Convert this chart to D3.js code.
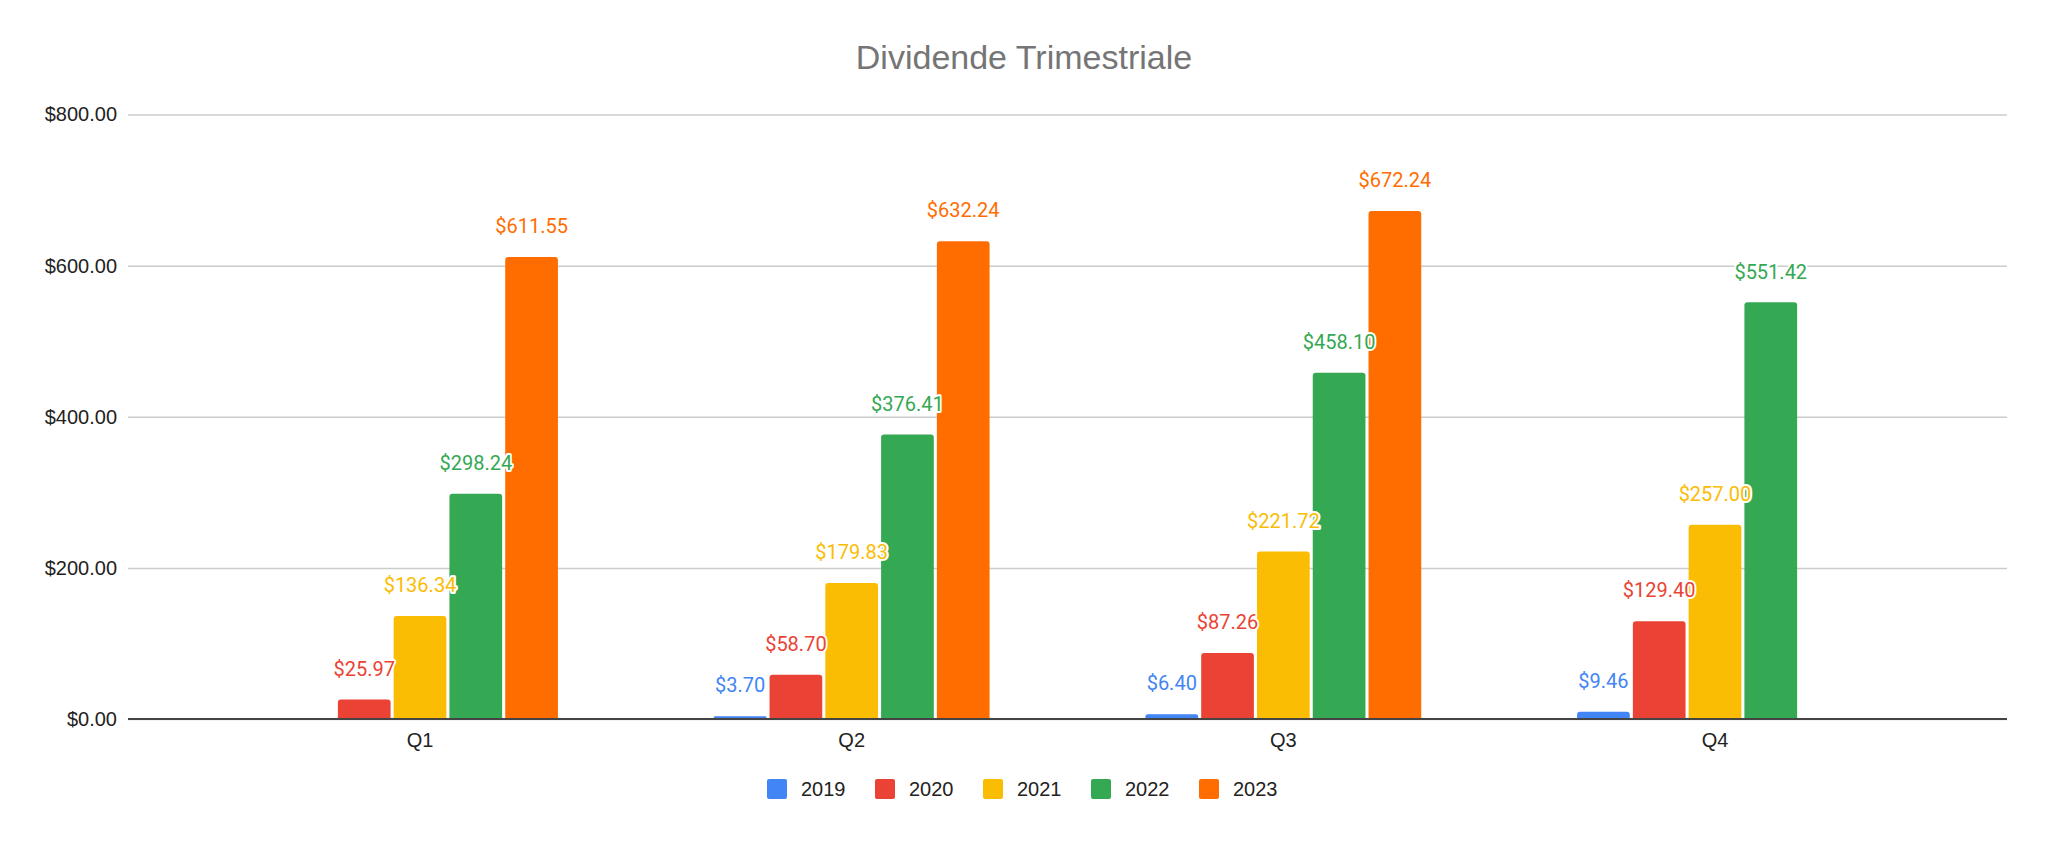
<!DOCTYPE html>
<html>
<head>
<meta charset="utf-8">
<script src="https://cdn.jsdelivr.net/npm/d3@7"></script>
<style>
  body { margin: 0; background: #fff; }
  .axis text { font-family: "Liberation Sans", Arial, sans-serif; font-size: 20px; fill: #222; }
  .yaxis .tick line { stroke: #ccc; stroke-width: 1.5; }
  .axis .domain { display: none; }
  .label { font-family: Roboto, sans-serif; font-size: 20px; paint-order: stroke; stroke: #fff; stroke-width: 4px; stroke-linejoin: round; }
</style>
</head>
<body>
<script>
(function(){

    //chart data
    var quarters = ["Q1", "Q2", "Q3", "Q4"];
    var years = ["2019", "2020", "2021", "2022", "2023"];
    var v2019 = [null, 3.70, 6.40, 9.46];
    var v2020 = [25.97, 58.70, 87.26, 129.40];
    var v2021 = [136.34, 179.83, 221.72, 257.00];
    var v2022 = [298.24, 376.41, 458.10, 551.42];
    var v2023 = [611.55, 632.24, 672.24, null];
    var yTicks = [0, 200, 400, 600, 800];
    var colors = ["#4285f4", "#ea4335", "#fbbc04", "#34a853", "#ff6d01"];

    var seriesValues = [v2019, v2020, v2021, v2022, v2023];

    //frame
    var width = 2048,
        height = 841,
        left = 128,
        right = 2007,
        top = 114.5,
        bottom = 719;

    var svg = d3.select("body")
        .append("svg")
        .attr("width", width)
        .attr("height", height);

    //scales
    var x0 = d3.scaleBand()
        .domain(quarters)
        .range([left, right])
        .paddingInner(0.361)
        .paddingOuter(0.357);

    var x1 = d3.scaleBand()
        .domain(years)
        .range([0, x0.bandwidth()])
        .paddingInner(0.055);

    var y = d3.scaleLinear()
        .domain([0, 800])
        .range([bottom, top]);

    var money = function(d){ return "$" + d3.format(",.2f")(d); };

    //title
    svg.append("text")
        .attr("x", 1024)
        .attr("y", 69)
        .attr("text-anchor", "middle")
        .style("font-family", "'Liberation Sans', Arial, sans-serif")
        .style("font-size", "34px")
        .style("fill", "#757575")
        .text("Dividende Trimestriale");

    //y axis with gridlines
    var yAxis = d3.axisLeft(y)
        .tickValues(yTicks)
        .tickSize(-(right - left))
        .tickPadding(11)
        .tickFormat(money);

    svg.append("g")
        .attr("class", "axis yaxis")
        .attr("transform", "translate(" + left + ",0)")
        .call(yAxis);

    //flatten data into bars
    var bars = [];
    quarters.forEach(function(q, qi){
        years.forEach(function(yr, si){
            var v = seriesValues[si][qi];
            if (v != null) bars.push({q: q, year: yr, value: v, color: colors[si]});
        });
    });

    //rounded top corners path
    function barPath(d){
        var bx = x0(d.q) + x1(d.year),
            bw = x1.bandwidth(),
            by = y(d.value),
            bh = y(0) - by,
            r = Math.min(3, bh / 2, bw / 2);
        return "M" + bx + "," + (by + bh) +
            "V" + (by + r) +
            "Q" + bx + "," + by + " " + (bx + r) + "," + by +
            "H" + (bx + bw - r) +
            "Q" + (bx + bw) + "," + by + " " + (bx + bw) + "," + (by + r) +
            "V" + (by + bh) + "Z";
    }

    svg.selectAll(".bar")
        .data(bars)
        .enter()
        .append("path")
        .attr("class", "bar")
        .attr("d", barPath)
        .style("fill", function(d){ return d.color; });

    //zero baseline
    svg.append("line")
        .attr("x1", left)
        .attr("x2", right)
        .attr("y1", y(0))
        .attr("y2", y(0))
        .style("stroke", "#444")
        .style("stroke-width", 2);

    //x axis
    var xAxis = d3.axisBottom(x0)
        .tickSize(0)
        .tickPadding(14);

    svg.append("g")
        .attr("class", "axis xaxis")
        .attr("transform", "translate(0," + y(0) + ")")
        .call(xAxis);

    //data labels
    svg.selectAll(".label")
        .data(bars)
        .enter()
        .append("text")
        .attr("class", "label")
        .attr("x", function(d){ return x0(d.q) + x1(d.year) + x1.bandwidth() / 2; })
        .attr("y", function(d){ return y(d.value) - 31; })
        .attr("dy", "0.36em")
        .attr("text-anchor", "middle")
        .style("fill", function(d){ return d.color; })
        .text(function(d){ return money(d.value); });

    //legend
    var legend = svg.append("g")
        .attr("transform", "translate(767,779)");

    var item = legend.selectAll(".legendItem")
        .data(years)
        .enter()
        .append("g")
        .attr("class", "legendItem")
        .attr("transform", function(d, i){ return "translate(" + (i * 108) + ",0)"; });

    item.append("rect")
        .attr("width", 20)
        .attr("height", 20)
        .attr("rx", 2)
        .style("fill", function(d, i){ return colors[i]; });

    item.append("text")
        .attr("x", 34)
        .attr("y", 17)
        .style("font-family", "'Liberation Sans', Arial, sans-serif")
        .style("font-size", "20px")
        .style("fill", "#222")
        .text(function(d){ return d; });

})();
</script>
</body>
</html>
